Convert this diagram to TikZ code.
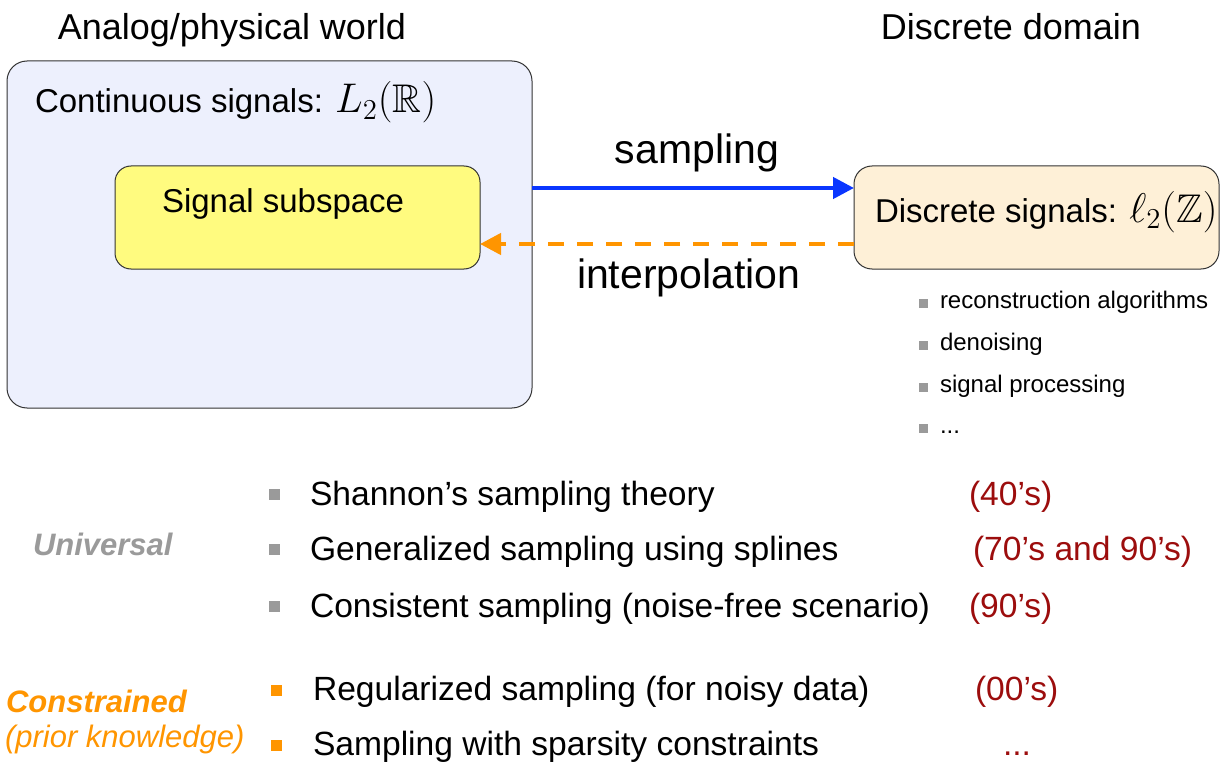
\documentclass[tikz,border=0pt]{standalone}
\usepackage{amsmath}
\usepackage{amssymb}
\usepackage{fontspec}
\setmainfont{Liberation Sans}
\usetikzlibrary{arrows.meta}
\usetikzlibrary{calc}

\definecolor{analogfill}{HTML}{EDF0FD}
\definecolor{subfill}{HTML}{FFFB7F}
\definecolor{discfill}{HTML}{FEF0D7}
\definecolor{sampblue}{HTML}{0A36FF}
\definecolor{interporange}{HTML}{FF9500}
\definecolor{yearred}{HTML}{9C0D0D}
\definecolor{bulgray}{HTML}{9A9A9A}

\newcommand{\fsHead}{\fontsize{18}{22}\selectfont}
\newcommand{\fsBox}{\fontsize{16.5}{20}\selectfont}
\newcommand{\fsMath}{\fontsize{20}{22}\selectfont}
\newcommand{\fsArrow}{\fontsize{20.5}{24}\selectfont}
\newcommand{\fsSmall}{\fontsize{12}{14}\selectfont}
\newcommand{\fsList}{\fontsize{16.8}{20}\selectfont}
\newcommand{\fsSide}{\fontsize{15.5}{19}\selectfont}

\begin{document}
\begin{tikzpicture}[x=0.5pt, y=-0.5pt, semithick]
  \tikzstyle{every node}=[inner sep=0pt, outer sep=0pt]
  \tikzstyle{roundbox}=[draw=black!80, line width=0.5pt, rectangle]
  \tikzstyle{txt}=[anchor=base west]
  \tikzstyle{sqbul}=[fill=bulgray, minimum size=5.5pt]
  \tikzstyle{sqbulsmall}=[fill=bulgray, minimum size=4.5pt]
  \tikzstyle{orbul}=[fill=interporange, minimum size=5.5pt]
\useasboundingbox (0,0) rectangle (1222,765);

% headings
\node[anchor=base, font=\fsHead] (analog) at (232,40) {Analog/physical world};
\node[anchor=base, font=\fsHead] (discrete) at (1011,40) {Discrete domain};

% boxes
\node[roundbox, fill=analogfill, rounded corners=10pt, minimum width=262.5pt, minimum height=173.5pt] (cont) at (269.5,234.5) {};
\node[txt, font=\fsBox] (contlbl) at (35,113) {Continuous signals: {\fsMath$L_2(\mathbb{R})$}};
\node[roundbox, fill=subfill, rounded corners=8pt, minimum width=182.5pt, minimum height=51.5pt] (sub) at (297.5,217.5) {};
\node[txt, font=\fsBox] (sublbl) at (162,213) {Signal subspace};
\node[roundbox, fill=discfill, rounded corners=9pt, minimum width=182.5pt, minimum height=51.5pt] (disc) at (1036.5,217.5) {};
\node[txt, font=\fsBox] (disclbl) at (875,222) {Discrete signals: {\fsMath$\ell_2(\mathbb{Z})$}};

% arrows
\coordinate (sy) at (0,188);
\coordinate (iy) at (0,244);
\draw[sampblue, line width=2.2pt, -{Triangle[length=10.5pt,width=10.5pt]}] (cont.east |- sy) -- (disc.west |- sy);
\draw[interporange, line width=2.2pt, dash pattern=on 8pt off 6.5pt, -{Triangle[length=10.5pt,width=10.5pt]}] (disc.west |- iy) -- (sub.east |- iy);
\node[anchor=base, font=\fsArrow] (samplbl) at (697,163) {sampling};
\node[txt, font=\fsArrow] (interplbl) at (577,288) {interpolation};

% discrete domain tasks
\foreach \t/\yy [count=\i] in {reconstruction algorithms/308, denoising/350, signal processing/392, .{}.{}./433}{
    \node[sqbulsmall] (sb\i) at (923,\yy-4.5) {};
    \node[txt, font=\fsSmall] (st\i) at (940,\yy) {\t};
}

% universal methods
\foreach \t/\d/\dx/\yy [count=\i] in {Shannon's sampling theory/(40's)/969/505, Generalized sampling using splines/(70's and 90's)/973/560, Consistent sampling (noise-free scenario)/(90's)/969/617}{
    \node[sqbul] (ub\i) at (274,\yy-11) {};
    \node[txt, font=\fsList] (ut\i) at (310,\yy) {\t};
    \node[txt, font=\fsList, text=yearred] (ud\i) at (\dx,\yy) {\d};
}
\node[txt, font=\fsSide\bfseries\itshape, text=bulgray] (univ) at (33,555) {Universal};

% constrained methods
\foreach \t/\d/\dx/\yy [count=\i] in {Regularized sampling (for noisy data)/(00's)/975/700, Sampling with sparsity constraints/.{}.{}./1003/755}{
    \node[orbul] (cb\i) at (276.5,\yy-10) {};
    \node[txt, font=\fsList] (ct\i) at (313,\yy) {\t};
    \node[txt, font=\fsList, text=yearred] (cd\i) at (\dx,\yy) {\d};
}
\node[txt, font=\fsSide\bfseries\itshape, text=interporange] (constr) at (6,712) {Constrained};
\node[txt, font=\fsSide\itshape, text=interporange] (prior) at (5,747) {(prior knowledge)};
\end{tikzpicture}
\end{document}
